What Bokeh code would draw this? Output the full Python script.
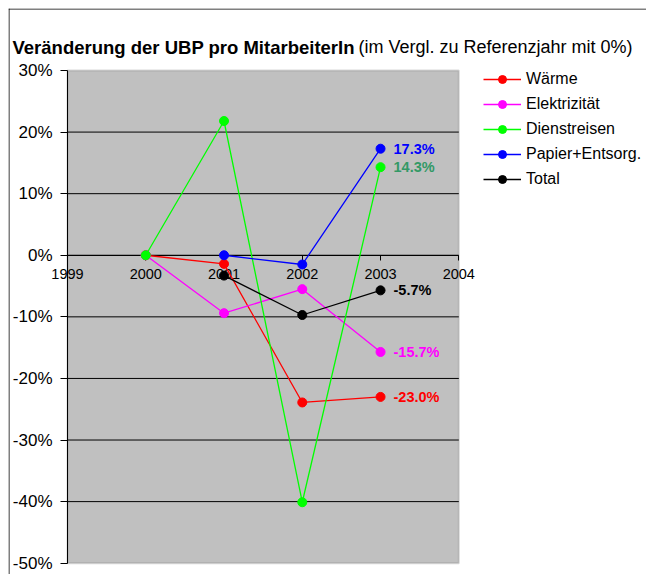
from bokeh.plotting import figure
from bokeh.models import (FixedTicker, PrintfTickFormatter, Legend, LegendItem,
                          Label, BoxAnnotation, Span)
from bokeh.embed import file_html
from bokeh.resources import INLINE
from bokeh.core.properties import value

nan = float("nan")

years = [2000, 2001, 2002, 2003]
series_names = ["Wärme", "Elektrizität", "Dienstreisen", "Papier+Entsorg.", "Total"]
waerme = [0.0, -1.4, -23.9, -23.0]
elektrizitaet = [0.0, -9.4, -5.5, -15.7]
dienstreisen = [0.0, 21.8, -40.1, 14.3]
papier = [nan, 0.0, -1.5, 17.3]
total = [nan, -3.3, -9.7, -5.7]
series_colors = ["#FF0000", "#FF00FF", "#00FF00", "#0000FF", "#000000"]
label_colors = ["#FF0000", "#FF00FF", "#339966", "#0000FF", "#000000"]
x_ticks = [1999, 2000, 2001, 2002, 2003, 2004]
y_ticks = [-50, -40, -30, -20, -10, 0, 10, 20, 30]
title_bold = "Veränderung der UBP pro MitarbeiterIn"
title_rest = " (im Vergl. zu Referenzjahr mit 0%)"

FONT = "Liberation Sans"

# frame covers the whole chart box (from 8,8 to the window edge); the plot
# area (1999..2004, -50..30) sits inside it
W, H = 646, 574
FL, FT = 8, 8
px_per_year = (458.3 - 67) / (x_ticks[-1] - x_ticks[0])
px_per_pct = (562.7 - 70) / (y_ticks[-1] - y_ticks[0])
x0 = x_ticks[0] - (67 - FL) / px_per_year
x1 = x_ticks[0] + (W - 67) / px_per_year
y1 = y_ticks[-1] + (70 - FT) / px_per_pct
y0 = y_ticks[0] - (H - 562.7) / px_per_pct

p = figure(width=W, height=H, output_backend="svg", toolbar_location=None,
           x_range=(x0, x1), y_range=(y0, y1),
           min_border_left=FL, min_border_top=FT, min_border_right=0,
           min_border_bottom=0)
p.background_fill_color = "white"
p.border_fill_color = "white"
p.outline_line_color = None

# plot area background
p.add_layout(BoxAnnotation(left=x_ticks[0], right=x_ticks[-1],
                           bottom=y_ticks[0], top=y_ticks[-1],
                           fill_color="#C0C0C0", fill_alpha=1,
                           line_color="#808080", line_width=2, level="image"))

# chart box border (left & top)
p.add_layout(Span(location=0.5, location_units="screen", dimension="height",
                  line_color="black", line_width=1))
p.add_layout(Span(location=H - FT - 0.5, location_units="screen", dimension="width",
                  line_color="black", line_width=1))

# axes
p.xaxis.fixed_location = 0
p.xaxis.bounds = (x_ticks[0], x_ticks[-1])
p.xaxis.ticker = FixedTicker(ticks=x_ticks)
p.xaxis.major_label_overrides = {t: str(t) for t in x_ticks}
p.xaxis.minor_tick_line_color = None
p.xaxis.major_tick_in = 0
p.xaxis.major_tick_out = 5
p.xaxis.major_label_standoff = 9
p.xaxis.axis_line_color = "black"
p.xaxis.major_tick_line_color = "black"
p.xaxis.major_label_text_font = FONT
p.xaxis.major_label_text_font_size = "14.5px"
p.xaxis.major_label_text_color = "black"
p.xaxis.level = "underlay"

p.yaxis.fixed_location = x_ticks[0]
p.yaxis.bounds = (y_ticks[0], y_ticks[-1])
p.yaxis.ticker = FixedTicker(ticks=y_ticks)
p.yaxis.formatter = PrintfTickFormatter(format="%d%%")
p.yaxis.minor_tick_line_color = None
p.yaxis.major_tick_in = 0
p.yaxis.major_tick_out = 7
p.yaxis.major_label_standoff = 8
p.yaxis.axis_line_color = "black"
p.yaxis.major_tick_line_color = "black"
p.yaxis.major_label_text_font = FONT
p.yaxis.major_label_text_font_size = "17px"
p.yaxis.major_label_text_color = "black"

p.xgrid.grid_line_color = None
p.ygrid.grid_line_color = None

# horizontal gridlines inside the plot area
inner = [t for t in y_ticks if y_ticks[0] < t < y_ticks[-1]]
p.segment(x0=[x_ticks[0]] * len(inner), x1=[x_ticks[-1]] * len(inner),
          y0=inner, y1=inner, line_color="black", line_width=1)

all_series = [waerme, elektrizitaet, dienstreisen, papier, total]
items = []
for name, vals, col in zip(series_names, all_series, series_colors):
    xs = [x for x, v in zip(years, vals) if v == v]
    ys = [v for v in vals if v == v]
    lr = p.line(xs, ys, line_color=col, line_width=1.3)
    sr = p.scatter(xs, ys, marker="circle", size=9, fill_color=col, line_color=col)
    items.append(LegendItem(label=name, renderers=[lr, sr]))

# value labels at last year
last_x = [years[-1]] * len(all_series)
last_y = [vals[-1] for vals in all_series]
last_txt = [f"{v:.1f}%" for v in last_y]
p.text(last_x, last_y, text=last_txt, text_color=label_colors,
       x_offset=13, text_baseline="middle", text_align="left",
       text_font=value(FONT), text_font_style="bold", text_font_size="14.5px")

legend = Legend(items=items, location=(475, 385), orientation="vertical",
                background_fill_alpha=0, border_line_color=None,
                padding=0, margin=0, spacing=5,
                glyph_width=38, glyph_height=20, label_height=20,
                label_standoff=5, label_text_font=FONT,
                label_text_font_size="16px", label_text_color="black")
p.add_layout(legend, "center")

p.add_layout(Label(x=12 - FL, y=H - 46.7, x_units="screen", y_units="screen",
                   text=title_bold, text_font=FONT, text_font_style="bold",
                   text_font_size="18.5px", text_baseline="alphabetic",
                   text_color="black"))
p.add_layout(Label(x=358 - FL, y=H - 46.7, x_units="screen", y_units="screen",
                   text=title_rest, text_font=FONT, text_font_style="normal",
                   text_font_size="18px", text_baseline="alphabetic",
                   text_color="black"))

open("out.html", "w").write(file_html(p, INLINE))
